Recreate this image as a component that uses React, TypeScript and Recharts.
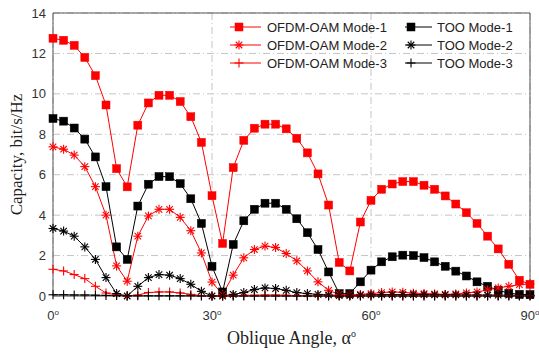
import React from 'react';
import { LineChart, Line, XAxis, YAxis, CartesianGrid, ReferenceLine, Legend, Label } from 'recharts';

const angles = [0, 2, 4, 6, 8, 10, 12, 14, 16, 18, 20, 22, 24, 26, 28, 30, 32, 34, 36, 38, 40, 42, 44, 46, 48, 50, 52, 54, 56, 58, 60, 62, 64, 66, 68, 70, 72, 74, 76, 78, 80, 82, 84, 86, 88, 90];

const ofdmMode1 = [12.75, 12.65, 12.4, 11.8, 10.9, 9.45, 6.3, 5.4, 8.45, 9.55, 9.93, 9.93, 9.62, 8.87, 7.6, 4.96, 2.6, 6.35, 7.7, 8.3, 8.5, 8.5, 8.27, 7.8, 7.08, 6.04, 4.5, 1.66, 1.24, 3.66, 4.73, 5.28, 5.54, 5.66, 5.66, 5.48, 5.28, 4.95, 4.55, 4.12, 3.59, 2.96, 2.33, 1.57, 0.78, 0.58];
const tooMode1 = [8.78, 8.65, 8.31, 7.76, 6.88, 5.41, 2.43, 1.81, 4.45, 5.53, 5.91, 5.9, 5.56, 4.81, 3.59, 1.47, 0.2, 2.55, 3.72, 4.29, 4.59, 4.59, 4.29, 3.82, 3.13, 2.3, 1.19, 0.12, 0.12, 0.7, 1.28, 1.69, 1.94, 2.02, 2.0, 1.9, 1.69, 1.47, 1.23, 0.99, 0.7, 0.48, 0.28, 0.14, 0.08, 0.07];
const ofdmMode2 = [7.38, 7.26, 6.97, 6.4, 5.41, 4.0, 1.49, 0.73, 2.96, 3.96, 4.29, 4.29, 3.89, 3.23, 2.13, 0.69, 0.07, 1.03, 1.89, 2.3, 2.47, 2.4, 2.1, 1.74, 1.24, 0.7, 0.28, 0.08, 0.05, 0.08, 0.12, 0.17, 0.2, 0.18, 0.14, 0.12, 0.1, 0.08, 0.1, 0.15, 0.2, 0.3, 0.4, 0.48, 0.56, 0.6];
const tooMode2 = [3.34, 3.21, 2.96, 2.43, 1.81, 0.91, 0.12, 0.0, 0.48, 0.91, 1.06, 1.03, 0.86, 0.58, 0.23, 0.0, 0.0, 0.08, 0.17, 0.32, 0.4, 0.37, 0.28, 0.17, 0.12, 0.08, 0.05, 0.02, 0.02, 0.04, 0.06, 0.07, 0.07, 0.07, 0.07, 0.07, 0.06, 0.06, 0.06, 0.05, 0.05, 0.05, 0.04, 0.04, 0.03, 0.03];
const ofdmMode3 = [1.32, 1.24, 1.06, 0.86, 0.48, 0.15, 0.05, 0.0, 0.05, 0.17, 0.2, 0.2, 0.15, 0.08, 0.02, 0.0, 0.0, 0.01, 0.03, 0.04, 0.05, 0.05, 0.04, 0.02, 0.01, 0.01, 0.01, 0.01, 0.01, 0.01, 0.01, 0.01, 0.01, 0.01, 0.01, 0.01, 0.01, 0.01, 0.01, 0.01, 0.01, 0.01, 0.01, 0.01, 0.01, 0.01];
const tooMode3 = [0.06, 0.06, 0.05, 0.05, 0.04, 0.03, 0.02, 0.01, 0.01, 0.01, 0.01, 0.01, 0.01, 0.01, 0.0, 0.0, 0.0, 0.0, 0.0, 0.0, 0.0, 0.0, 0.0, 0.0, 0.0, 0.0, 0.0, 0.0, 0.0, 0.0, 0.0, 0.0, 0.0, 0.0, 0.0, 0.0, 0.0, 0.0, 0.0, 0.0, 0.0, 0.0, 0.0, 0.0, 0.0, 0.0];

const xTicks = [0, 30, 60, 90];
const yTicks = [0, 2, 4, 6, 8, 10, 12, 14];

const seriesNames = ['OFDM-OAM Mode-1', 'TOO Mode-1', 'OFDM-OAM Mode-2', 'TOO Mode-2', 'OFDM-OAM Mode-3', 'TOO Mode-3'];

const data = angles.map((a, i) => ({
  angle: a,
  ofdm1: ofdmMode1[i],
  too1: tooMode1[i],
  ofdm2: ofdmMode2[i],
  too2: tooMode2[i],
  ofdm3: ofdmMode3[i],
  too3: tooMode3[i],
}));

const RED = '#ff0000';
const BLACK = '#000000';
const SANS = '"Liberation Sans", Arial, Helvetica, sans-serif';
const SERIF = '"Liberation Serif", "Times New Roman", serif';

type Shape = 'square' | 'star' | 'plus';

function marker(shape: Shape, color: string, cx: number, cy: number, key?: any) {
  if (cx == null || cy == null || isNaN(cx) || isNaN(cy)) return <g key={key} />;
  if (shape === 'square') {
    return <rect key={key} x={cx - 4} y={cy - 4} width={8} height={8} fill={color} stroke={color} strokeWidth={0.5} />;
  }
  const r = 4.5;
  const d = r * 0.72;
  if (shape === 'star') {
    return (
      <g key={key} stroke={color} strokeWidth={1.1}>
        <line x1={cx - r} y1={cy} x2={cx + r} y2={cy} />
        <line x1={cx} y1={cy - r} x2={cx} y2={cy + r} />
        <line x1={cx - d} y1={cy - d} x2={cx + d} y2={cy + d} />
        <line x1={cx - d} y1={cy + d} x2={cx + d} y2={cy - d} />
      </g>
    );
  }
  return (
    <g key={key} stroke={color} strokeWidth={1.1}>
      <line x1={cx - r} y1={cy} x2={cx + r} y2={cy} />
      <line x1={cx} y1={cy - r} x2={cx} y2={cy + r} />
    </g>
  );
}

const makeDot = (shape: Shape, color: string) => (props: any) => marker(shape, color, props.cx, props.cy, props.index);

const XTick = (props: any) => {
  const { x, y, payload } = props;
  return (
    <text x={x} y={y + 24} textAnchor="middle" fontFamily={SANS} fontSize={13} fill="#333">
      {payload.value}
      <tspan dy={-5} fontSize={8}>o</tspan>
    </text>
  );
};

const legendRows = [
  { left: { name: seriesNames[0], shape: 'square' as Shape }, right: { name: seriesNames[1], shape: 'square' as Shape } },
  { left: { name: seriesNames[2], shape: 'star' as Shape }, right: { name: seriesNames[3], shape: 'star' as Shape } },
  { left: { name: seriesNames[4], shape: 'plus' as Shape }, right: { name: seriesNames[5], shape: 'plus' as Shape } },
];

const renderLegend = () => (
  <svg width={310} height={60} style={{ display: 'block', overflow: 'visible' }}>
    {legendRows.map((row, i) => {
      const y = 13 + i * 18;
      return (
        <g key={i}>
          <line x1={10} y1={y} x2={41} y2={y} stroke={RED} strokeWidth={1} />
          {marker(row.left.shape, RED, 19, y)}
          <text x={47} y={y + 4.5} fontFamily={SANS} fontSize={13} fill="#222">{row.left.name}</text>
          <line x1={185} y1={y} x2={212} y2={y} stroke={BLACK} strokeWidth={1} />
          {marker(row.right.shape, BLACK, 191, y)}
          <text x={217} y={y + 4.5} fontFamily={SANS} fontSize={13} fill="#222">{row.right.name}</text>
        </g>
      );
    })}
  </svg>
);

export default function App() {
  return (
    <div style={{ position: 'absolute', left: 0, top: 0, width: 539, height: 355, background: '#fff' }}>
      <LineChart width={539} height={355} data={data} margin={{ top: 13, right: 9, bottom: 0, left: 8 }}>
        <CartesianGrid stroke="#c4c4c4" strokeDasharray="7 3 1 3" horizontal={true} vertical={true} />
        <XAxis
          dataKey="angle"
          type="number"
          domain={[0, 90]}
          ticks={xTicks}
          tick={<XTick />}
          tickLine={false}
          tickSize={0}
          tickMargin={0}
          axisLine={{ stroke: '#555' }}
          height={59}
          interval={0}
        >
          <Label
            content={(props: any) => {
              const vb = props.viewBox || {};
              return (
                <text x={vb.x + vb.width / 2} y={vb.y + 48} textAnchor="middle" fontFamily={SERIF} fontSize={18} fill="#222">
                  Oblique Angle, α<tspan dy={-7} fontSize={10}>o</tspan>
                </text>
              );
            }}
          />
        </XAxis>
        <YAxis
          type="number"
          domain={[0, 14]}
          ticks={yTicks}
          tickLine={false}
          tickSize={5}
          tickMargin={2}
          axisLine={{ stroke: '#555' }}
          width={45}
          interval={0}
          tick={{ fontFamily: SANS, fontSize: 13, fill: '#333' }}
        >
          <Label
            content={(props: any) => {
              const vb = props.viewBox || {};
              const cy = vb.y + vb.height / 2;
              const cx = vb.x + 14;
              return (
                <text transform={`translate(${cx}, ${cy}) rotate(-90)`} textAnchor="middle" fontFamily={SERIF} fontSize={17} fill="#222">
                  Capacity, bit/s/Hz
                </text>
              );
            }}
          />
        </YAxis>
        <ReferenceLine y={14} stroke="#555" strokeWidth={1} />
        <ReferenceLine x={90} stroke="#555" strokeWidth={1} />
        <Legend
          layout="vertical"
          align="center"
          verticalAlign="middle"
          content={renderLegend}
          wrapperStyle={{ position: 'absolute', left: 220, top: 14, width: 310, height: 60 }}
        />
        <Line dataKey="ofdm1" name={seriesNames[0]} stroke={RED} strokeWidth={1} dot={makeDot('square', RED)} isAnimationActive={false} />
        <Line dataKey="too1" name={seriesNames[1]} stroke={BLACK} strokeWidth={1} dot={makeDot('square', BLACK)} isAnimationActive={false} />
        <Line dataKey="ofdm2" name={seriesNames[2]} stroke={RED} strokeWidth={1} dot={makeDot('star', RED)} isAnimationActive={false} />
        <Line dataKey="too2" name={seriesNames[3]} stroke={BLACK} strokeWidth={1} dot={makeDot('star', BLACK)} isAnimationActive={false} />
        <Line dataKey="ofdm3" name={seriesNames[4]} stroke={RED} strokeWidth={1} dot={makeDot('plus', RED)} isAnimationActive={false} />
        <Line dataKey="too3" name={seriesNames[5]} stroke={BLACK} strokeWidth={1} dot={makeDot('plus', BLACK)} isAnimationActive={false} />
      </LineChart>
    </div>
  );
}
